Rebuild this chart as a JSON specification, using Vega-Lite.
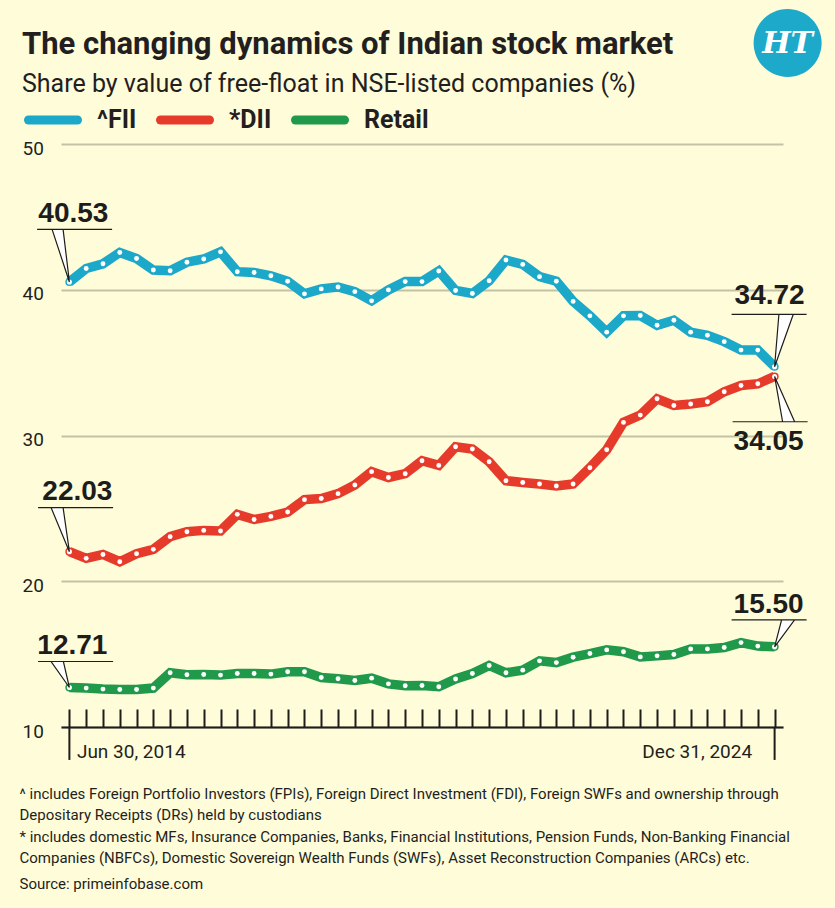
{
  "$schema": "https://vega.github.io/schema/vega-lite/v6.json",
  "width": 722,
  "height": 583,
  "autosize": "none",
  "padding": {"left": 61, "top": 144, "right": 52, "bottom": 181},
  "background": "#FFFCDA",
  "config": {
    "view": {"stroke": null},
    "font": "Roboto",
    "axis": {"labelFont": "Roboto", "titleFont": "Roboto"}
  },
  "title": {
    "text": "The changing dynamics of Indian stock market",
    "subtitle": "Share by value of free-float in NSE-listed companies (%)",
    "anchor": "start",
    "frame": "group",
    "font": "Roboto",
    "fontSize": 31,
    "fontWeight": "bold",
    "color": "#231F20",
    "subtitleFont": "Roboto",
    "subtitleFontSize": 25,
    "subtitleFontWeight": "normal",
    "subtitleColor": "#231F20",
    "subtitlePadding": 10.5,
    "dx": -39,
    "offset": -89
  },
  "data": {
    "values": [
      {"d": "2014-06-30", "^FII": 40.53, "*DII": 22.03, "Retail": 12.71},
      {"d": "2014-09-30", "^FII": 41.46, "*DII": 21.57, "Retail": 12.67},
      {"d": "2014-12-31", "^FII": 41.78, "*DII": 21.84, "Retail": 12.60},
      {"d": "2015-03-31", "^FII": 42.56, "*DII": 21.34, "Retail": 12.57},
      {"d": "2015-06-30", "^FII": 42.14, "*DII": 21.89, "Retail": 12.57},
      {"d": "2015-09-30", "^FII": 41.35, "*DII": 22.19, "Retail": 12.67},
      {"d": "2015-12-31", "^FII": 41.30, "*DII": 23.06, "Retail": 13.72},
      {"d": "2016-03-31", "^FII": 41.89, "*DII": 23.40, "Retail": 13.58},
      {"d": "2016-06-30", "^FII": 42.11, "*DII": 23.49, "Retail": 13.60},
      {"d": "2016-09-30", "^FII": 42.60, "*DII": 23.45, "Retail": 13.56},
      {"d": "2016-12-31", "^FII": 41.24, "*DII": 24.59, "Retail": 13.67},
      {"d": "2017-03-31", "^FII": 41.18, "*DII": 24.24, "Retail": 13.67},
      {"d": "2017-06-30", "^FII": 40.96, "*DII": 24.45, "Retail": 13.63},
      {"d": "2017-09-30", "^FII": 40.58, "*DII": 24.75, "Retail": 13.79},
      {"d": "2017-12-31", "^FII": 39.72, "*DII": 25.60, "Retail": 13.79},
      {"d": "2018-03-31", "^FII": 40.06, "*DII": 25.68, "Retail": 13.40},
      {"d": "2018-06-30", "^FII": 40.19, "*DII": 26.01, "Retail": 13.31},
      {"d": "2018-09-30", "^FII": 39.87, "*DII": 26.60, "Retail": 13.19},
      {"d": "2018-12-31", "^FII": 39.24, "*DII": 27.52, "Retail": 13.35},
      {"d": "2019-03-31", "^FII": 39.99, "*DII": 27.12, "Retail": 12.96},
      {"d": "2019-06-30", "^FII": 40.56, "*DII": 27.38, "Retail": 12.83},
      {"d": "2019-09-30", "^FII": 40.56, "*DII": 28.27, "Retail": 12.85},
      {"d": "2019-12-31", "^FII": 41.29, "*DII": 27.95, "Retail": 12.76},
      {"d": "2020-03-31", "^FII": 39.95, "*DII": 29.23, "Retail": 13.29},
      {"d": "2020-06-30", "^FII": 39.74, "*DII": 29.07, "Retail": 13.67},
      {"d": "2020-09-30", "^FII": 40.62, "*DII": 28.20, "Retail": 14.22},
      {"d": "2020-12-31", "^FII": 42.04, "*DII": 26.90, "Retail": 13.72},
      {"d": "2021-03-31", "^FII": 41.74, "*DII": 26.78, "Retail": 13.90},
      {"d": "2021-06-30", "^FII": 40.90, "*DII": 26.67, "Retail": 14.54},
      {"d": "2021-09-30", "^FII": 40.58, "*DII": 26.54, "Retail": 14.42},
      {"d": "2021-12-31", "^FII": 39.20, "*DII": 26.67, "Retail": 14.79},
      {"d": "2022-03-31", "^FII": 38.21, "*DII": 27.79, "Retail": 15.04},
      {"d": "2022-06-30", "^FII": 37.09, "*DII": 29.02, "Retail": 15.29},
      {"d": "2022-09-30", "^FII": 38.21, "*DII": 30.90, "Retail": 15.16},
      {"d": "2022-12-31", "^FII": 38.23, "*DII": 31.40, "Retail": 14.81},
      {"d": "2023-03-31", "^FII": 37.56, "*DII": 32.52, "Retail": 14.88},
      {"d": "2023-06-30", "^FII": 37.91, "*DII": 32.06, "Retail": 14.97},
      {"d": "2023-09-30", "^FII": 37.09, "*DII": 32.16, "Retail": 15.36},
      {"d": "2023-12-31", "^FII": 36.88, "*DII": 32.32, "Retail": 15.36},
      {"d": "2024-03-31", "^FII": 36.44, "*DII": 33.00, "Retail": 15.45},
      {"d": "2024-06-30", "^FII": 35.86, "*DII": 33.43, "Retail": 15.79},
      {"d": "2024-09-30", "^FII": 35.86, "*DII": 33.55, "Retail": 15.55},
      {"d": "2024-12-31", "^FII": 34.72, "*DII": 34.05, "Retail": 15.50}
    ]
  },
  "transform": [{"fold": ["^FII", "*DII", "Retail"], "as": ["series", "share"]}],
  "encoding": {
    "x": {
      "field": "d",
      "type": "ordinal",
      "scale": {"type": "point", "padding": 0.5},
      "axis": {
        "orient": "bottom",
        "domainColor": "#1D1D1B",
        "domainWidth": 2,
        "ticks": true,
        "tickColor": "#1D1D1B",
        "tickWidth": 2,
        "tickSize": -18,
        "grid": false,
        "labelExpr": "datum.value == '2014-06-30' ? 'Jun 30, 2014' : datum.value == '2024-12-31' ? 'Dec 31, 2024' : ''",
        "labelAlign": {"condition": {"test": "datum.value == '2014-06-30'", "value": "left"}, "value": "right"},
        "labelOffset": {"condition": {"test": "datum.value == '2014-06-30'", "value": 7}, "value": -23},
        "labelBaseline": "alphabetic",
        "labelPadding": 48,
        "labelFont": "Roboto",
        "labelFontSize": 19,
        "labelColor": "#231F20",
        "labelAngle": 0,
        "labelOverlap": false,
        "labelBound": false,
        "labelFlush": false,
        "title": [
          "^ includes Foreign Portfolio Investors (FPIs), Foreign Direct Investment (FDI), Foreign SWFs and ownership through",
          "Depositary Receipts (DRs) held by custodians",
          "* includes domestic MFs, Insurance Companies, Banks, Financial Institutions, Pension Funds, Non-Banking Financial",
          "Companies (NBFCs), Domestic Sovereign Wealth Funds (SWFs), Asset Reconstruction Companies (ARCs) etc."
        ],
        "titleX": -42,
        "titleY": 71,
        "titleAlign": "left",
        "titleAnchor": "start",
        "titleBaseline": "alphabetic",
        "titleFont": "Roboto",
        "titleFontSize": 15,
        "titleFontWeight": "normal",
        "titleLineHeight": 21.5,
        "titleColor": "#231F20"
      }
    },
    "y": {
      "field": "share",
      "type": "quantitative",
      "scale": {"domain": [10, 50], "nice": false, "zero": false},
      "axis": {
        "values": [10, 20, 30, 40, 50],
        "domain": false,
        "ticks": false,
        "grid": true,
        "gridColor": "#C4C2A6",
        "gridWidth": 2,
        "labelAlign": "left",
        "labelPadding": 39,
        "labelFont": "Roboto",
        "labelFontSize": 19,
        "labelColor": "#231F20",
        "labelBaseline": "middle",
        "labelOffset": 4,
        "title": "Source: primeinfobase.com",
        "titleAngle": 0,
        "titleX": -42,
        "titleY": 744,
        "titleAlign": "left",
        "titleBaseline": "alphabetic",
        "titleFont": "Roboto",
        "titleFontSize": 15,
        "titleFontWeight": "normal",
        "titleColor": "#231F20"
      }
    }
  },
  "layer": [
    {
      "mark": {"type": "line", "strokeWidth": 9.5, "strokeJoin": "miter"},
      "encoding": {
        "color": {
          "field": "series",
          "type": "nominal",
          "scale": {"domain": ["^FII", "*DII", "Retail"], "range": ["#1CA8C9", "#E63B2B", "#21994B"]},
          "legend": {
            "orient": "none",
            "legendX": -37,
            "legendY": -53,
            "direction": "horizontal",
            "title": null,
            "padding": 0,
            "symbolType": "stroke",
            "symbolStrokeWidth": 9,
            "symbolSize": 2401,
            "labelFont": "Roboto",
            "labelFontSize": 25,
            "labelFontWeight": "bold",
            "labelColor": "#231F20",
            "labelOffset": 15,
            "columnPadding": 5,
            "encode": {"symbols": {"update": {"strokeCap": {"value": "round"}}}}
          }
        }
      }
    },
    {
      "mark": {"type": "point", "filled": true, "color": "white", "opacity": 1, "size": 24}
    },
    {
      "transform": [{"filter": "datum.d == '2014-06-30' || datum.d == '2024-12-31'"}],
      "mark": {"type": "point", "fill": "white", "opacity": 1, "size": 44, "strokeWidth": 1.5},
      "encoding": {
        "stroke": {
          "field": "series",
          "type": "nominal",
          "scale": {"domain": ["^FII", "*DII", "Retail"], "range": ["#1CA8C9", "#E63B2B", "#21994B"]},
          "legend": null
        }
      }
    },
    {
      "transform": [{"filter": "datum.d == '2014-06-30' || datum.d == '2024-12-31'"}],
      "mark": {"type": "point", "fill": "white", "stroke": "#1D1D1B", "strokeWidth": 1.2, "strokeJoin": "miter", "opacity": 1, "size": 10000},
      "encoding": {
        "shape": {
          "condition": [
            {"test": "datum.series == '^FII' && datum.d == '2014-06-30'", "value": "M0,0L-0.346,-1.054L-0.126,-1.054ZM-0.646,-1.054L0.854,-1.054"},
            {"test": "datum.series == '^FII' && datum.d == '2024-12-31'", "value": "M0,0L0.086,-1.048L0.374,-1.048ZM-0.86,-1.048L0.64,-1.048"},
            {"test": "datum.series == '*DII' && datum.d == '2014-06-30'", "value": "M0,0L-0.366,-0.88L-0.126,-0.88ZM-0.626,-0.88L0.874,-0.88"},
            {"test": "datum.series == '*DII' && datum.d == '2024-12-31'", "value": "M0,0L0.16,0.906L0.4,0.906ZM-0.84,0.906L0.66,0.906"},
            {"test": "datum.series == 'Retail' && datum.d == '2014-06-30'", "value": "M0,0L-0.366,-0.52L-0.12,-0.52ZM-0.626,-0.52L0.874,-0.52"}
          ],
          "value": "M0,0L0.14,-0.54L0.4,-0.54ZM-0.86,-0.54L0.64,-0.54"
        }
      }
    },
    {
      "transform": [{"filter": "datum.series == '^FII' && datum.d == '2014-06-30'"}],
      "mark": {"type": "text", "font": "Liberation Sans", "fontWeight": "bold", "fontSize": 28, "color": "#1D1D1B", "align": "center", "baseline": "alphabetic", "dx": 4, "dy": -60},
      "encoding": {"text": {"field": "share", "type": "quantitative", "format": ".2f"}}
    },
    {
      "transform": [{"filter": "datum.series == '^FII' && datum.d == '2024-12-31'"}],
      "mark": {"type": "text", "font": "Liberation Sans", "fontWeight": "bold", "fontSize": 28, "color": "#1D1D1B", "align": "center", "baseline": "alphabetic", "dx": -5, "dy": -63},
      "encoding": {"text": {"field": "share", "type": "quantitative", "format": ".2f"}}
    },
    {
      "transform": [{"filter": "datum.series == '*DII' && datum.d == '2014-06-30'"}],
      "mark": {"type": "text", "font": "Liberation Sans", "fontWeight": "bold", "fontSize": 28, "color": "#1D1D1B", "align": "center", "baseline": "alphabetic", "dx": 8, "dy": -52},
      "encoding": {"text": {"field": "share", "type": "quantitative", "format": ".2f"}}
    },
    {
      "transform": [{"filter": "datum.series == '*DII' && datum.d == '2024-12-31'"}],
      "mark": {"type": "text", "font": "Liberation Sans", "fontWeight": "bold", "fontSize": 28, "color": "#1D1D1B", "align": "center", "baseline": "alphabetic", "dx": -6, "dy": 74},
      "encoding": {"text": {"field": "share", "type": "quantitative", "format": ".2f"}}
    },
    {
      "transform": [{"filter": "datum.series == 'Retail' && datum.d == '2014-06-30'"}],
      "mark": {"type": "text", "font": "Liberation Sans", "fontWeight": "bold", "fontSize": 28, "color": "#1D1D1B", "align": "center", "baseline": "alphabetic", "dx": 3, "dy": -34},
      "encoding": {"text": {"field": "share", "type": "quantitative", "format": ".2f"}}
    },
    {
      "transform": [{"filter": "datum.series == 'Retail' && datum.d == '2024-12-31'"}],
      "mark": {"type": "text", "font": "Liberation Sans", "fontWeight": "bold", "fontSize": 28, "color": "#1D1D1B", "align": "center", "baseline": "alphabetic", "dx": -6, "dy": -34},
      "encoding": {"text": {"field": "share", "type": "quantitative", "format": ".2f"}}
    },
    {
      "transform": [{"filter": "datum.series == 'Retail' && (datum.d == '2014-06-30' || datum.d == '2024-12-31')"}],
      "mark": {"type": "rule", "color": "#1D1D1B", "strokeWidth": 2},
      "encoding": {"y": {"datum": 10}, "y2": {"datum": 7.74}}
    },
    {
      "transform": [{"filter": "datum.series == 'Retail' && datum.d == '2024-12-31'"}],
      "mark": {"type": "point", "filled": true, "color": "#1DA9CA", "opacity": 1, "size": 10000, "shape": "M-0.42,0A0.68,0.68,0,1,0,0.94,0A0.68,0.68,0,1,0,-0.42,0Z"},
      "encoding": {"y": {"datum": 56.93}}
    },
    {
      "transform": [{"filter": "datum.series == 'Retail' && datum.d == '2024-12-31'"}],
      "mark": {"type": "text", "text": "HT", "font": "DejaVu Serif", "fontWeight": "bold", "fontStyle": "italic", "fontSize": 30, "color": "white", "align": "center", "baseline": "middle", "dx": 13, "dy": 1},
      "encoding": {"y": {"datum": 56.93}}
    }
  ]
}
